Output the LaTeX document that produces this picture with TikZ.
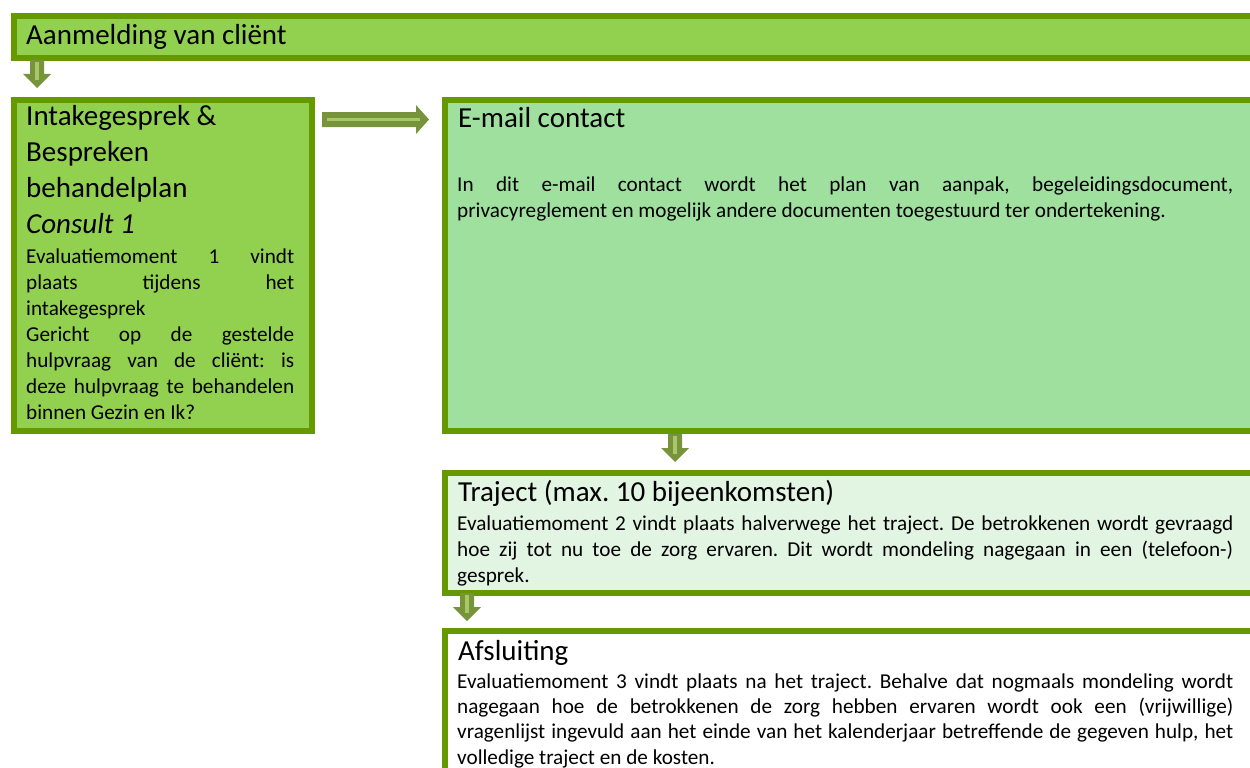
\documentclass[tikz,border=0pt]{standalone}
\usepackage{fontspec}
\setmainfont{Carlito}
\frenchspacing
\definecolor{bord}{HTML}{669900}
\definecolor{topfill}{HTML}{92D050}
\definecolor{mailfill}{HTML}{9FE09F}
\definecolor{trajfill}{HTML}{E2F4E2}
\definecolor{arrc}{HTML}{77933C}
\definecolor{stripc}{HTML}{A8C867}
\newcommand\hfont{\fontsize{29}{36.3}\selectfont}
\newcommand\bfont{\fontsize{21.2}{26}\selectfont}
\newcommand\jl[2]{\makebox[#1][s]{#2}}
\begin{document}
\begin{tikzpicture}[x=1pt,y=-1pt,
  box/.style={draw=bord,line width=6pt,rectangle,inner sep=0pt,anchor=north west},
  txt/.style={anchor=base west,inner sep=0pt,align=left},
  downarr/.pic={
    \fill[arrc] (-7,0) -- (7,0) -- (7,14) -- (14,14) -- (0,28) -- (-14,14) -- (-7,14) -- cycle;
    \fill[stripc] (-1.8,2) rectangle (1.8,20);
  }]
\useasboundingbox (0,0) rectangle (1250,768);
\clip (0,0) rectangle (1250,768);

% boxes
\node[box,fill=topfill,minimum width=1239pt,minimum height=42pt] (aanm) at (11,13) {};
\node[box,fill=topfill,minimum width=298pt,minimum height=331pt] (intake) at (11,97) {};
\node[box,fill=mailfill,minimum width=808pt,minimum height=331pt] (mail) at (442,97) {};
\node[box,fill=trajfill,minimum width=808pt,minimum height=120pt] (traj) at (442,470) {};
\node[box,fill=white,minimum width=808pt,minimum height=200pt] (afsl) at (442,628) {};

% arrows
\pic at (37,60) {downarr};
\pic at (675,434) {downarr};
\pic at (467,593) {downarr};
\fill[arrc] (322,112) -- (416,112) -- (416,105) -- (429,119.5) -- (416,134) -- (416,127) -- (322,127) -- cycle;
\fill[stripc] (327,118) rectangle (420,121.2);

% texts
\node[txt] (t1) at (26,45) {\hfont Aanmelding van cliënt};

\node[txt] (t2) at (26,125) {\parbox[t]{280pt}{\hfont Intakegesprek \&\\Bespreken\\behandelplan\\\textit{Consult 1}}};
\node[txt] (t3) at (26,263) {\parbox[t]{268pt}{\bfont
  \jl{268pt}{Evaluatiemoment 1 vindt}\\
  \jl{268pt}{plaats tijdens het}\\
  intakegesprek\\
  \jl{268pt}{Gericht op de gestelde}\\
  \jl{268pt}{hulpvraag van de cliënt: is}\\
  \jl{268pt}{deze hulpvraag te behandelen}\\
  binnen Gezin en Ik?}};

\node[txt] (t4) at (458,127) {\hfont E-mail contact};
\node[txt] (t5) at (457,191) {\parbox[t]{776pt}{\bfont
  \jl{776pt}{In dit e-mail contact wordt het plan van aanpak, begeleidingsdocument,}\\
  privacyreglement en mogelijk andere documenten toegestuurd ter ondertekening.}};

\node[txt] (t6) at (458,501) {\hfont Traject (max. 10 bijeenkomsten)};
\node[txt] (t7) at (457,530) {\parbox[t]{776pt}{\bfont
  \jl{776pt}{Evaluatiemoment 2 vindt plaats halverwege het traject. De betrokkenen wordt gevraagd}\\
  \jl{776pt}{hoe zij tot nu toe de zorg ervaren. Dit wordt mondeling nagegaan in een (telefoon-)}\\
  gesprek.}};

\node[txt] (t8) at (458,660) {\hfont Afsluiting};
\node[txt] (t9) at (457,688) {\parbox[t]{776pt}{\fontsize{21.2}{25.4}\selectfont
  \jl{776pt}{Evaluatiemoment 3 vindt plaats na het traject. Behalve dat nogmaals mondeling wordt}\\
  \jl{776pt}{nagegaan hoe de betrokkenen de zorg hebben ervaren wordt ook een (vrijwillige)}\\
  \jl{776pt}{vragenlijst ingevuld aan het einde van het kalenderjaar betreffende de gegeven hulp, het}\\
  volledige traject en de kosten.}};
\end{tikzpicture}
\end{document}
